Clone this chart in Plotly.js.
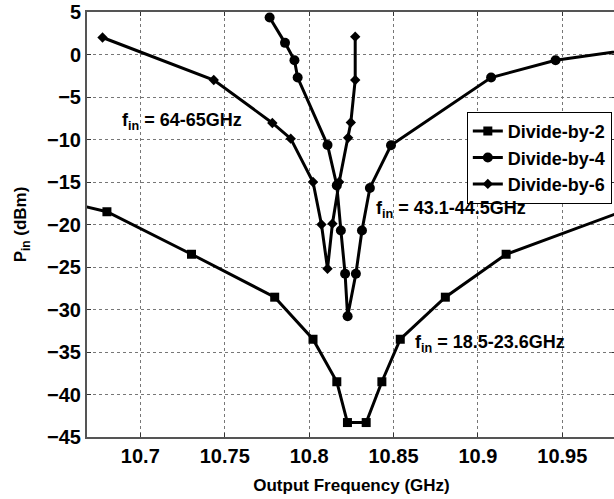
<!DOCTYPE html>
<html>
<head>
<meta charset="utf-8">
<script src="https://cdn.plot.ly/plotly-3.0.1.min.js"></script>
<style>
html,body{margin:0;padding:0;overflow:hidden;background:#fff;width:614px;height:499px;}
#chart{width:620px;height:499px;}
</style>
</head>
<body>
<div id="chart"></div>
<script>
// Output frequency (GHz) and input power (dBm)
const div2X = [10.655, 10.6802, 10.7303, 10.7796, 10.8023, 10.8164, 10.8227, 10.8338, 10.8431, 10.854, 10.8807, 10.9167, 10.985];
const div2Y = [-17.3, -18.5, -23.5, -28.55, -33.5, -38.5, -43.3, -43.3, -38.5, -33.5, -28.55, -23.5, -18.5];

const div4X = [10.7766, 10.7857, 10.7913, 10.7932, 10.8109, 10.8164, 10.8188, 10.8213, 10.8228, 10.8277, 10.8313, 10.836, 10.8485, 10.9078, 10.946, 11.02];
const div4Y = [4.36, 1.37, -0.67, -2.71, -10.65, -15.4, -20.7, -25.8, -30.8, -25.8, -20.7, -15.7, -10.68, -2.71, -0.67, 1.37];

const div6X = [10.6776, 10.7435, 10.7782, 10.7891, 10.8023, 10.8073, 10.8109, 10.8138, 10.8178, 10.8231, 10.8247, 10.8273, 10.8273];
const div6Y = [2.0, -3.0, -8.05, -9.9, -15.0, -20.0, -25.2, -19.9, -15.0, -9.8, -8.0, -3.0, 2.1];

const seriesNames = ["Divide-by-2", "Divide-by-4", "Divide-by-6"];
const xTickVals = [10.7, 10.75, 10.8, 10.85, 10.9, 10.95];
const xTickText = ["10.7", "10.75", "10.8", "10.85", "10.9", "10.95"];
const yTickVals = [5, 0, -5, -10, -15, -20, -25, -30, -35, -40, -45];

const annTexts = ["f<sub>in</sub> = 64-65GHz", "f<sub>in</sub> = 43.1-44.5GHz", "f<sub>in</sub> = 18.5-23.6GHz"];
const annX = [10.6882, 10.8387, 10.8616];
const annY = [-7.85, -18.2, -34.0];

const FONT = "Liberation Sans, Arial, Helvetica, sans-serif";

function tr(x, y, name, sym, size) {
  return {
    x: x, y: y, name: name, type: "scatter", mode: "lines+markers",
    line: {color: "#000", width: 3},
    marker: {symbol: sym, size: size, color: "#000"},
    cliponaxis: true
  };
}

const data = [
  tr(div2X, div2Y, seriesNames[0], "square", 9),
  tr(div4X, div4Y, seriesNames[1], "circle", 10),
  tr(div6X, div6Y, seriesNames[2], "diamond", 8)
];

const annotations = annTexts.map((t, i) => ({
  text: t, x: annX[i], y: annY[i], xref: "x", yref: "y",
  xanchor: "left", yanchor: "middle", showarrow: false,
  font: {family: FONT, size: 18, color: "#000", weight: "bold"}
}));

const layout = {
  width: 620, height: 499,
  margin: {l: 87, r: 4, t: 12, b: 62},
  paper_bgcolor: "#fff", plot_bgcolor: "#fff",
  showlegend: true,
  legend: {
    x: 0.718, y: 0.765, xanchor: "left", yanchor: "top",
    bgcolor: "#fff", bordercolor: "#000", borderwidth: 1,
    font: {family: FONT, size: 18, color: "#000", weight: "bold"},
    tracegroupgap: 0
  },
  xaxis: {
    range: [10.6684, 10.9818],
    tickvals: xTickVals, ticktext: xTickText,
    ticks: "inside", ticklen: 4, tickcolor: "#333",
    showline: true, linecolor: "#555", linewidth: 2, mirror: "ticks",
    showgrid: true, gridcolor: "#777", griddash: "dot", gridwidth: 1,
    zeroline: false,
    tickfont: {family: FONT, size: 20, color: "#000", weight: "bold"},
    title: {text: "Output Frequency (GHz)", standoff: 13,
            font: {family: FONT, size: 17, color: "#000", weight: "bold"}}
  },
  yaxis: {
    range: [-45, 5],
    tickvals: yTickVals,
    ticks: "inside", ticklen: 4, tickcolor: "#333",
    showline: true, linecolor: "#555", linewidth: 2, mirror: "ticks",
    showgrid: true, gridcolor: "#777", griddash: "dot", gridwidth: 1,
    zeroline: false,
    tickfont: {family: FONT, size: 20, color: "#000", weight: "bold"},
    title: {text: "P<sub>in</sub> (dBm)", standoff: 16,
            font: {family: FONT, size: 17, color: "#000", weight: "bold"}}
  },
  annotations: annotations
};

Plotly.newPlot("chart", data, layout, {displayModeBar: false, staticPlot: true});
</script>
</body>
</html>
